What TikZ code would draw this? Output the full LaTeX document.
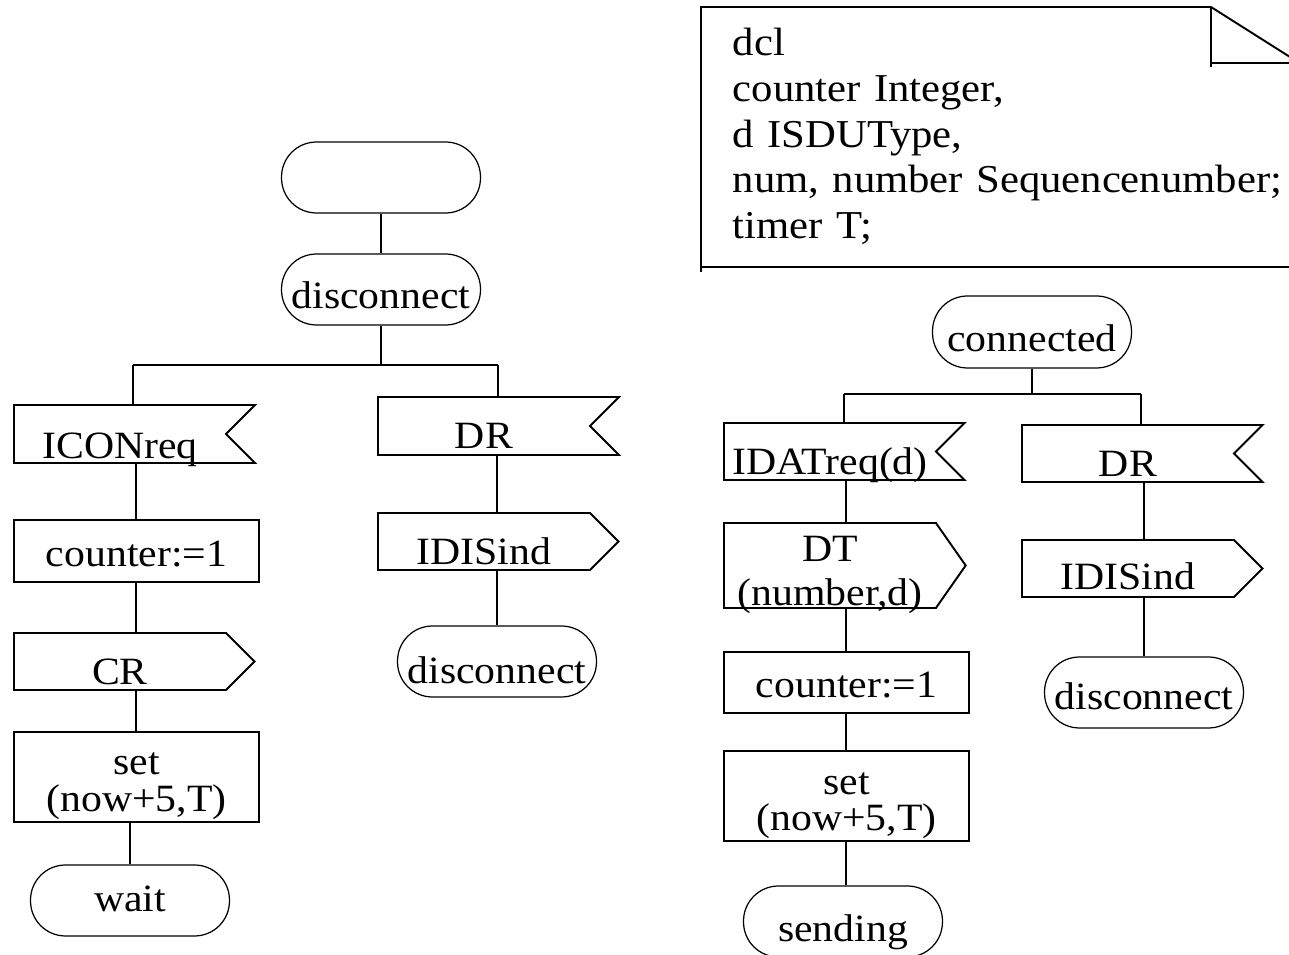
\documentclass[tikz,border=0pt]{standalone}
\usepackage{fontspec}
\setmainfont[FakeStretch=1.08]{Liberation Serif}
\usepackage{tikz}
\usetikzlibrary{shapes.symbols}

\begin{document}
\begin{tikzpicture}[x=0.02cm, y=-0.02cm, line width=1.1pt,
            font=\fontsize{22}{26}\selectfont,
            state node/.style={draw, rectangle, rounded corners=0.7cm, minimum width=3.98cm, minimum height=1.42cm, inner sep=0pt, line width=0.7pt},
            task node/.style={draw, rectangle, text width=4.9cm, align=center, inner sep=0pt, anchor=west},
            in node/.style={draw, signal, signal to=nowhere, signal from=east, text width=4.24cm, align=center, inner sep=0pt, anchor=west, text height=1.04cm, text depth=0.12cm},
            out node/.style={draw, signal, signal to=east, text width=4.24cm, align=center, inner sep=0pt, anchor=west, text height=1.04cm, text depth=0.1cm},
            ]
            \useasboundingbox (0,0) rectangle (1289,955);

            \node[state node] (1) at (381,177.5) {};
            \node[state node, text height=1.1cm, text depth=0.32cm] (2) at (381,289.5) {disconnect};
            \node[in node, text height=1.08cm, text depth=0.08cm] (3) at (13,434) {ICONreq};
            \node[task node, text height=0.94cm, text depth=0.3cm] (4) at (13,551) {counter:=1};
            \node[out node] (5) at (13,661.5) {CR};
            \node[task node, text height=0.86cm, text depth=0.94cm, font=\fontsize{22}{21}\selectfont] (6) at (13,777) {set\\(now+5,T)};
            \node[state node, text height=0.94cm, text depth=0.48cm] (7) at (130,900.5) {wait};
            \node[in node] (8) at (377,426) {DR};
            \node[out node] (9) at (377,541.5) {IDISind};
            \node[state node, text height=1.16cm, text depth=0.26cm] (10) at (497,661.5) {disconnect};

            \node[state node, text height=1.12cm, text depth=0.32cm] (11) at (1032,332) {connected};
            \node[in node, text height=1.04cm, text depth=0.1cm] (12) at (723,451.5) {IDATreq(d)};
            \node[out node, signal pointer angle=110, text height=0.78cm, text depth=0.92cm, font=\fontsize{22}{25}\selectfont] (13) at (723,565.5) {DT\\(number,d)};
            \node[task node, text height=0.92cm, text depth=0.3cm] (14) at (723,682.5) {counter:=1};
            \node[task node, text height=0.88cm, text depth=0.92cm, font=\fontsize{22}{20}\selectfont] (15) at (723,796) {set\\(now+5,T)};
            \node[state node, text height=1.12cm, text depth=0.3cm] (16) at (843,921.5) {sending};
            \node[in node, text height=1.04cm, text depth=0.1cm] (17) at (1021,453.5) {DR};
            \node[out node, text height=1.0cm, text depth=0.14cm] (18) at (1021,568.5) {IDISind};
            \node[state node, text height=1.06cm, text depth=0.36cm] (19) at (1144,692.5) {disconnect};

            \node[text width=11.5cm, align=left, inner sep=0pt, anchor=base west, font=\fontsize{22.5}{25.9}\selectfont] (20) at (732,56) {dcl\\counter Integer,\\d ISDUType,\\num, number Sequencenumber;\\timer T;};
            \draw (701,272) -- (701,7) -- (1211,7) -- (1290,57);
            \draw (1211,7) -- (1211,67);
            \draw (1211,63) -- (1289,63);
            \draw (701,267) -- (1289,267);

            \coordinate (j1) at (133,365);
            \coordinate (j2) at (498,365);
            \coordinate (j3) at (844,394);
            \coordinate (j4) at (1141,394);

            \draw (1) -- (2);
            \draw (j1) -- (j2);
            \draw (2.south) -- (2.south |- j1);
            \draw (j1) -- (j1 |- 3.north);
            \draw (j2) -- (j2 |- 8.north);
            \draw (4.north |- 3.south) -- (4.north);
            \draw (4.south) -- (4.south |- 5.north);
            \draw (4.south |- 5.south) -- (6.north);
            \draw (7.north |- 6.south) -- (7.north);
            \draw (10.north |- 8.south) -- (10.north |- 9.north);
            \draw (10.north |- 9.south) -- (10.north);

            \draw (j3) -- (j4);
            \draw (11.south) -- (11.south |- j3);
            \draw (j3) -- (j3 |- 12.north);
            \draw (j4) -- (j4 |- 17.north);
            \draw (14.north |- 12.south) -- (14.north |- 13.north);
            \draw (14.north |- 13.south) -- (14.north);
            \draw (14.south) -- (15.north);
            \draw (15.south) -- (15.south |- 16.north);
            \draw (19.north |- 17.south) -- (19.north |- 18.north);
            \draw (19.north |- 18.south) -- (19.north);
        \end{tikzpicture}
\end{document}
